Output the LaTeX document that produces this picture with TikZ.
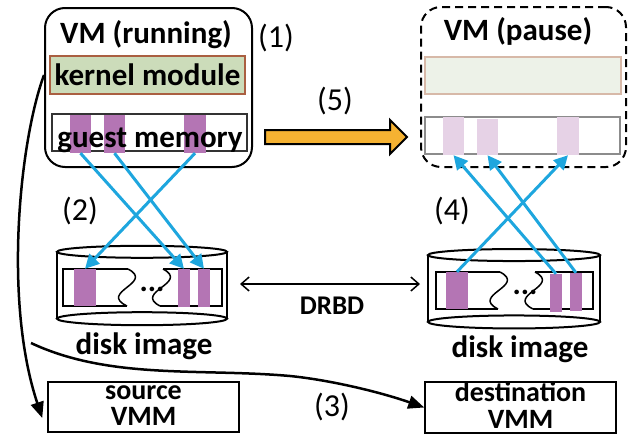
\documentclass[tikz,border=0pt]{standalone}
\usepackage{fontspec}
\setmainfont{Carlito}
\usetikzlibrary{arrows.meta}

\definecolor{memPurple}{RGB}{180,117,180}
\definecolor{memPale}{RGB}{230,210,230}
\definecolor{kmGreen}{RGB}{204,220,186}
\definecolor{kmPale}{RGB}{237,242,232}
\definecolor{kmEdge}{RGB}{170,95,65}
\definecolor{kmPaleEdge}{RGB}{215,185,168}
\definecolor{copyBlue}{RGB}{30,166,222}
\definecolor{migOrange}{RGB}{245,178,50}

\newcommand{\hoststrut}{\rule[-4.5pt]{0pt}{20pt}}

\tikzset{
  lbl/.style={font=\fontsize{31}{28}\selectfont\bfseries, inner sep=0pt},
  num/.style={font=\fontsize{32}{32}\selectfont, inner sep=0pt},
  vmbox/.style={draw, line width=2pt, rounded corners=20pt, minimum width=207pt, minimum height=159pt, inner sep=0pt},
  strip/.style={line width=1.5pt, minimum width=195pt, minimum height=37pt, inner sep=0pt},
  bar/.style={fill=memPurple, inner sep=0pt, minimum width=21pt, minimum height=38pt},
  palebar/.style={fill=memPale, inner sep=0pt, minimum width=21pt, minimum height=38pt},
  disk/.style={inner sep=0pt, minimum width=170pt, minimum height=66.5pt},
  hostbox/.style={draw, line width=1.5pt, minimum width=191pt, minimum height=50pt, inner sep=0pt, align=center,
    font=\fontsize{28}{26.5}\selectfont\bfseries},
  copyarr/.style={draw=copyBlue, line width=3pt, -{Triangle[length=14pt,width=14pt]}},
  ctrlarr/.style={draw, line width=2.5pt, -{Triangle[length=16pt,width=13pt]}},
}

\begin{document}
\begin{tikzpicture}[x=1pt,y=-1pt]
\useasboundingbox (0,0) rectangle (630,434);

% source VM
\node[vmbox] (vmL) at (148.5,87.5) {};
\node[lbl, anchor=base] (vmLtxt) at (146,43) {VM (running)};
\node[num] (n1) at (276,38) {(1)};
\node[strip, draw=kmEdge, fill=kmGreen, minimum height=38pt, font=\fontsize{31}{28}\selectfont\bfseries] (kmL) at (147.5,75) {kernel module};
\node[strip, draw=black!80, fill=white] (memL) at (149.5,132.5) {};
\node[bar] (pL1) at (80.5,134) {};
\node[bar] (pL2) at (114.5,134) {};
\node[bar, minimum width=22pt] (pL3) at (195,134) {};
\node[lbl, anchor=base] (memLtxt) at (150,147) {guest memory};

% destination VM
\node[vmbox, dashed, dash pattern=on 8pt off 5pt, minimum width=205pt, minimum height=160pt] (vmR) at (523.5,87) {};
\node[lbl, anchor=base] (vmRtxt) at (518,40) {VM (pause)};
\node[strip, draw=kmPaleEdge, fill=kmPale, minimum width=196pt] (kmR) at (523,75.5) {};
\node[strip, draw=black!45, fill=white] (memR) at (522.5,135.5) {};
\node[palebar] (pR1) at (453.5,136) {};
\node[palebar, minimum height=36pt] (pR2) at (487.5,137) {};
\node[palebar, minimum width=22pt] (pR3) at (568,136) {};

% migration arrow
\node[num] (n5) at (335,101) {(5)};
\coordinate (fA) at (265,137);
\coordinate (fB) at (407,137);
\draw[line width=2pt, fill=migOrange, line join=miter] (fA) ++(0,-7) -- ++(125,0) -- ++(0,-10) -- (fB)
  -- ++(-17,17) -- ++(0,-10) -- ++(-125,0) -- cycle;

% disk images
\node[disk] (diskL) at (142,285.25) {};
\draw[line width=2pt] (diskL.north west) -- (diskL.south west) (diskL.north east) -- (diskL.south east);
\draw[line width=2pt] (diskL.north) ellipse [x radius=85, y radius=6];
\draw[line width=2pt] (diskL.south) ellipse [x radius=85, y radius=6.5];
\draw[line width=1.5pt] (128,269) -- (63,269) -- (63,306) -- (127,306);
\draw[line width=1.5pt] (163,269) -- (222,269) -- (222,306) -- (160,306);
\draw[line width=1.5pt] (128,269) .. controls (155,283) and (98,292) .. (127,306);
\draw[line width=1.5pt] (163,269) .. controls (190,283) and (133,292) .. (160,306);
\node[bar, minimum width=22pt, minimum height=37pt] (dL1) at (85,287.5) {};
\node[bar, minimum width=12pt] (dL2) at (184,288) {};
\node[bar, minimum width=12pt] (dL3) at (204,288) {};
\node[lbl, anchor=base] (dotsL) at (152,291) {...};
\node[lbl, anchor=base] (diskLtxt) at (144,354) {disk image};

\node[disk, minimum width=172pt] (diskR) at (514,288.5) {};
\draw[line width=2pt] (diskR.north west) -- (diskR.south west) (diskR.north east) -- (diskR.south east);
\draw[line width=2pt] (diskR.north) ellipse [x radius=86, y radius=6];
\draw[line width=2pt] (diskR.south) ellipse [x radius=86, y radius=6.5];
\draw[line width=1.5pt] (500,272) -- (436,272) -- (436,309) -- (498,309);
\draw[line width=1.5pt] (535,272) -- (593,272) -- (593,309) -- (533,309);
\draw[line width=1.5pt] (500,272) .. controls (527,286) and (470,295) .. (498,309);
\draw[line width=1.5pt] (535,272) .. controls (562,286) and (505,295) .. (533,309);
\node[bar, minimum width=22pt, minimum height=37pt] (dR1) at (457,290.5) {};
\node[bar, minimum width=12pt] (dR2) at (556,293) {};
\node[bar, minimum width=12pt] (dR3) at (576,292) {};
\node[lbl, anchor=base] (dotsR) at (525,294) {...};
\node[lbl, anchor=base] (diskRtxt) at (520,357) {disk image};

% copies between memory and disk
\draw[copyarr] (pL3.south) -- (dL1.north);
\draw[copyarr] (pL1.south) -- (dL2.north);
\draw[copyarr] (pL2.south) -- (dL3.north);
\draw[copyarr] (dR1.north) -- (pR3.south);
\draw[copyarr] (dR2.north) -- (pR1.south);
\draw[copyarr] (dR3.north) -- (pR2.south);
\node[num] (n2) at (80,211) {(2)};
\node[num] (n4) at (452,211) {(4)};

% replication
\coordinate (drbdA) at (240,284);
\coordinate (drbdB) at (420,284);
\draw[line width=1.5pt, {Straight Barb[length=8pt,width=14pt]}-{Straight Barb[length=8pt,width=14pt]}] (drbdA) -- (drbdB);
\node[lbl, font=\fontsize{27}{27}\selectfont\bfseries, anchor=base] (drbdTxt) at (332,314) {DRBD};

% hypervisors
\node[hostbox] (srcV) at (143.5,407) {source\hoststrut\\VMM\hoststrut};
\node[hostbox] (dstV) at (520.5,407.5) {destination\hoststrut\\VMM\hoststrut};
\node[num] (n3) at (332,407) {(3)};
\coordinate (split) at (31,343);
\draw[ctrlarr] ([yshift=12.5pt]vmL.west) .. controls (20,140) and (3,300) .. ([xshift=-5pt,yshift=-11pt]srcV.west);
\draw[ctrlarr] (split) .. controls (110,380) and (200,368) .. (290,376) .. controls (330,380) and (380,392) .. (dstV.west);
\end{tikzpicture}
\end{document}
